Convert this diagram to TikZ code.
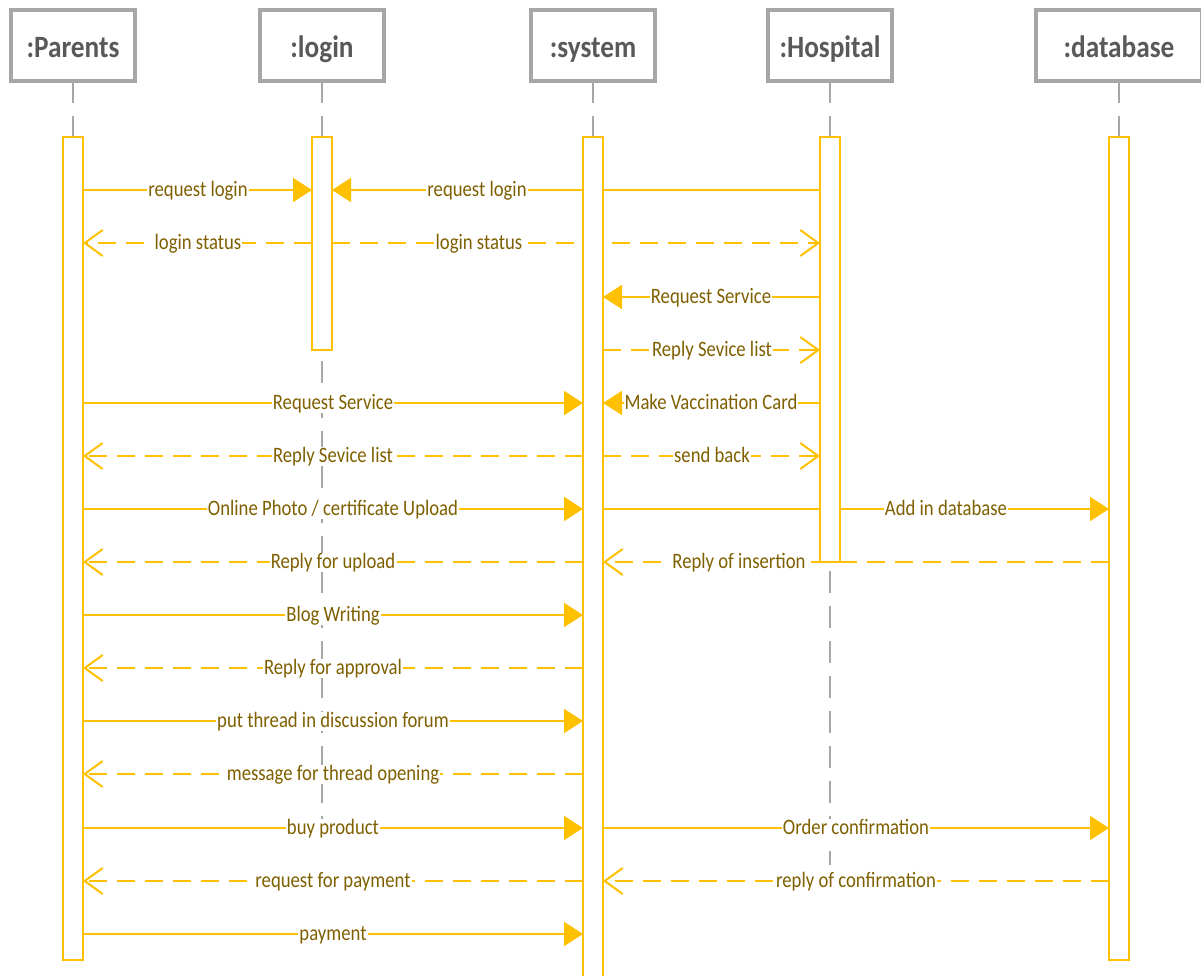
\documentclass[tikz,border=0pt]{standalone}
\usepackage{fontspec}
\setmainfont{Carlito}
\newfontfamily\lblfont[FakeStretch=0.85]{Carlito}
\newfontfamily\hdrfont[FakeStretch=0.88]{Carlito}
\usetikzlibrary{arrows.meta}
\definecolor{ylw}{HTML}{FFC000}
\definecolor{lblc}{HTML}{7F6000}
\definecolor{hdrtxt}{HTML}{595959}
\definecolor{hdrln}{HTML}{A6A6A6}
\pgfdeclarelayer{bg}
\pgfsetlayers{bg,main}
\newcommand\msg[7]{%
  \begin{pgfonlayer}{bg}\draw[#4] (#2 |- 0,#1) -- (#3 |- 0,#1);\end{pgfonlayer}
  \node[lbl] (#7) at (#6,#1) {#5};}
\begin{document}
\begin{tikzpicture}[x=1pt,y=-1pt,
 hdr/.style={draw=hdrln, line width=4pt, fill=white, minimum height=71pt, outer sep=0pt, text=hdrtxt, font=\hdrfont\bfseries\fontsize{31}{31}\selectfont, inner sep=0pt, text height=26pt, text depth=2pt},
 actbar/.style={draw=ylw, line width=2.6pt, fill=white, minimum width=20pt, inner sep=0pt, outer sep=0pt},
 life/.style={draw=hdrln, line width=1.6pt, dash pattern=on 22pt off 13pt},
 sync/.style={draw=ylw, line width=2pt, -{Triangle[length=19pt,width=24pt]}},
 reply/.style={draw=ylw, line width=2pt, dash pattern=on 18pt off 10pt, -{Straight Barb[length=18pt,width=26pt]}},
 lbl/.style={fill=white, text=lblc, font=\lblfont\fontsize{22}{22}\selectfont, inner sep=1pt, text height=15pt, text depth=2pt}
]
\useasboundingbox (0,0) rectangle (1201,976);
% headers
\node[hdr, minimum width=124pt] (hP) at (73,45.5) {:Parents};
\node[hdr, minimum width=124pt] (hL) at (322,45.5) {:login};
\node[hdr, minimum width=124pt] (hS) at (593,45.5) {:system};
\node[hdr, minimum width=124pt] (hH) at (830,45.5) {:Hospital};
\node[hdr, minimum width=166pt] (hD) at (1119,45.5) {:database};
% lifelines
\begin{pgfonlayer}{bg}
\coordinate (eP) at (73,960);
\coordinate (eL) at (322,850);
\coordinate (eS) at (593,976);
\coordinate (eH) at (830,865);
\coordinate (eD) at (1119,960);
\draw[life] (hP.south) -- (eP);
\draw[life] (hL.south) -- (eL);
\draw[life] (hS.south) -- (eS);
\draw[life] (hH.south) -- (eH);
\draw[life] (hD.south) -- (eD);
\end{pgfonlayer}
% activation bars
\node[actbar, minimum height=823pt] (bP) at (73,548.5) {};
\node[actbar, minimum height=213pt] (bL) at (322,243.5) {};
\node[actbar, minimum height=853pt] (bS) at (593,563.5) {};
\node[actbar, minimum height=425pt] (bH) at (830,349.5) {};
\node[actbar, minimum height=823pt] (bD) at (1119,548.5) {};
% messages
\msg{190}{bP.east}{bL.west}{sync}{request login}{198}{m1}
\msg{190}{bH.west}{bL.east}{sync}{request login}{477}{m2}
\msg{243}{bL.west}{bP.east}{reply}{login status}{198}{m3}
\msg{243}{bL.east}{bH.west}{reply}{login status}{479}{m4}
\msg{297}{bH.west}{bS.east}{sync}{Request Service}{711}{m5}
\msg{350}{bS.east}{bH.west}{reply}{Reply Sevice list}{712}{m6}
\msg{403}{bP.east}{bS.west}{sync}{Request Service}{333}{m7}
\msg{403}{bH.west}{bS.east}{sync}{Make Vaccination Card}{711}{m8}
\msg{456}{bS.west}{bP.east}{reply}{Reply Sevice list}{333}{m9}
\msg{456}{bS.east}{bH.west}{reply}{send back}{712}{m10}
\msg{509}{bP.east}{bS.west}{sync}{Online Photo / certificate Upload}{333}{m11}
\msg{509}{bS.east}{bD.west}{sync}{Add in database}{946}{m12}
\msg{562}{bS.west}{bP.east}{reply}{Reply for upload}{333}{m13}
\msg{562}{bD.west}{bS.east}{reply}{Reply of insertion}{739}{m14}
\msg{615}{bP.east}{bS.west}{sync}{Blog Writing}{333}{m15}
\msg{668}{bS.west}{bP.east}{reply}{Reply for approval}{333}{m16}
\msg{721}{bP.east}{bS.west}{sync}{put thread in discussion forum}{333}{m17}
\msg{774}{bS.west}{bP.east}{reply}{message for thread opening}{333}{m18}
\msg{828}{bP.east}{bS.west}{sync}{buy product}{333}{m19}
\msg{828}{bS.east}{bD.west}{sync}{Order confirmation}{856}{m20}
\msg{881}{bS.west}{bP.east}{reply}{request for payment}{333}{m21}
\msg{881}{bD.west}{bS.east}{reply}{reply of confirmation}{856}{m22}
\msg{934}{bP.east}{bS.west}{sync}{payment}{333}{m23}
\end{tikzpicture}
\end{document}
